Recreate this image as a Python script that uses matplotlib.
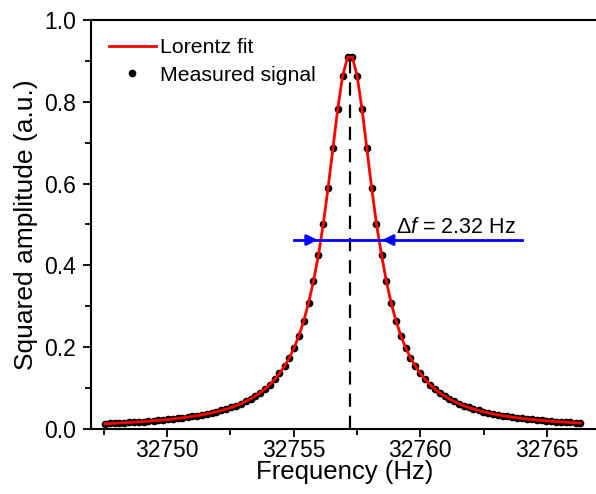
import matplotlib
matplotlib.use("Agg")
import matplotlib.pyplot as plt

plt.rcParams['font.family'] = ['Liberation Sans', 'DejaVu Sans']
plt.rcParams['mathtext.fontset'] = 'custom'
plt.rcParams['mathtext.rm'] = 'Liberation Sans'
plt.rcParams['mathtext.it'] = 'Liberation Sans:italic'

# measured points (frequency sweep)
freq = [32747.55, 32747.74, 32747.93, 32748.12, 32748.32, 32748.51, 32748.70, 32748.89, 32749.08, 32749.27,
        32749.47, 32749.66, 32749.85, 32750.04, 32750.23, 32750.42, 32750.61, 32750.81, 32751.00, 32751.19,
        32751.38, 32751.57, 32751.76, 32751.95, 32752.15, 32752.34, 32752.53, 32752.72, 32752.91, 32753.10,
        32753.30, 32753.49, 32753.68, 32753.87, 32754.06, 32754.25, 32754.44, 32754.64, 32754.83, 32755.02,
        32755.21, 32755.40, 32755.59, 32755.78, 32755.98, 32756.17, 32756.36, 32756.55, 32756.74, 32756.93,
        32757.13, 32757.32, 32757.51, 32757.70, 32757.89, 32758.08, 32758.27, 32758.47, 32758.66, 32758.85,
        32759.04, 32759.23, 32759.42, 32759.61, 32759.81, 32760.00, 32760.19, 32760.38, 32760.57, 32760.76,
        32760.96, 32761.15, 32761.34, 32761.53, 32761.72, 32761.91, 32762.10, 32762.30, 32762.49, 32762.68,
        32762.87, 32763.06, 32763.25, 32763.44, 32763.64, 32763.83, 32764.02, 32764.21, 32764.40, 32764.59,
        32764.79, 32764.98, 32765.17, 32765.36, 32765.55, 32765.74, 32765.93, 32766.13, 32766.32]
amp = [0.0130, 0.0135, 0.0141, 0.0146, 0.0153, 0.0159, 0.0166, 0.0174, 0.0182, 0.0191,
       0.0200, 0.0210, 0.0221, 0.0233, 0.0245, 0.0259, 0.0274, 0.0290, 0.0307, 0.0326,
       0.0347, 0.0370, 0.0395, 0.0423, 0.0454, 0.0489, 0.0527, 0.0570, 0.0618, 0.0673,
       0.0735, 0.0805, 0.0886, 0.0979, 0.1087, 0.1212, 0.1360, 0.1533, 0.1740, 0.1987,
       0.2285, 0.2645, 0.3082, 0.3612, 0.4253, 0.5015, 0.5896, 0.6860, 0.7818, 0.8621,
       0.9088, 0.9088, 0.8621, 0.7818, 0.6860, 0.5896, 0.5015, 0.4253, 0.3612, 0.3082,
       0.2645, 0.2285, 0.1987, 0.1740, 0.1533, 0.1360, 0.1212, 0.1087, 0.0979, 0.0886,
       0.0805, 0.0735, 0.0673, 0.0618, 0.0570, 0.0527, 0.0489, 0.0454, 0.0423, 0.0395,
       0.0370, 0.0347, 0.0326, 0.0307, 0.0290, 0.0274, 0.0259, 0.0245, 0.0233, 0.0221,
       0.0210, 0.0200, 0.0191, 0.0182, 0.0174, 0.0166, 0.0159, 0.0153, 0.0146]

f_center = 32757.22
peak = 0.915
fwhm = 2.32
y_half = 0.462
bar_start, bar_end = 32755.0, 32764.0

fig = plt.figure(figsize=(5.96, 4.94), dpi=100)
ax = fig.add_axes([91 / 596, 65 / 494, 506.6 / 596, 409 / 494])

ax.plot(freq, amp, 'o', color='black', markersize=4.5, zorder=2, label='Measured signal')
ax.plot(freq, amp, '-', color='red', lw=2, zorder=3, label='Lorentz fit')
ax.plot([f_center, f_center], [0, peak], '--', color='black', lw=1.6, dashes=(6, 4), zorder=1)

# width marker
ax.plot([bar_start, bar_end], [y_half, y_half], color='blue', lw=2, zorder=4)
left_tip = f_center - fwhm / 2
right_tip = f_center + fwhm / 2
ax.annotate('', xy=(left_tip, y_half), xytext=(left_tip - 0.6, y_half),
            arrowprops=dict(arrowstyle='-|>', color='blue', lw=2, mutation_scale=16), zorder=5)
ax.annotate('', xy=(right_tip, y_half), xytext=(right_tip + 0.6, y_half),
            arrowprops=dict(arrowstyle='-|>', color='blue', lw=2, mutation_scale=16), zorder=5)
ax.text(32759.05, 0.468, r'$\Delta f$ = 2.32 Hz', fontsize=15.5, ha='left', va='bottom')

ax.set_xlim(32747, 32767)
ax.set_ylim(0, 1.0)
ax.set_xticks([32750, 32755, 32760, 32765])
ax.set_xticks([32747.5, 32752.5, 32757.5, 32762.5], minor=True)
ax.set_yticks([0.0, 0.2, 0.4, 0.6, 0.8, 1.0])
ax.set_yticks([0.1, 0.3, 0.5, 0.7, 0.9], minor=True)
ax.set_yticklabels(['0.0', '0.2', '0.4', '0.6', '0.8', '1.0'])
ax.tick_params(which='major', direction='out', length=6, width=1.3, labelsize=16.5)
ax.tick_params(axis='x', which='major', pad=1)
ax.tick_params(axis='y', which='major', pad=5)
ax.tick_params(which='minor', direction='out', length=4, width=1.3)
for s in ax.spines.values():
    s.set_linewidth(1.5)
ax.spines['right'].set_visible(False)

ax.set_xlabel('Frequency (Hz)', fontsize=18.5, labelpad=-1)
ax.set_ylabel('Squared amplitude (a.u.)', fontsize=19, labelpad=4)

handles, labels = ax.get_legend_handles_labels()
ax.legend(handles[::-1], labels[::-1], loc='upper left', frameon=False, fontsize=15.3,
          handlelength=2.2, borderaxespad=0.45, labelspacing=0.4, handletextpad=0.2)

fig.savefig('out.png', dpi=100)
